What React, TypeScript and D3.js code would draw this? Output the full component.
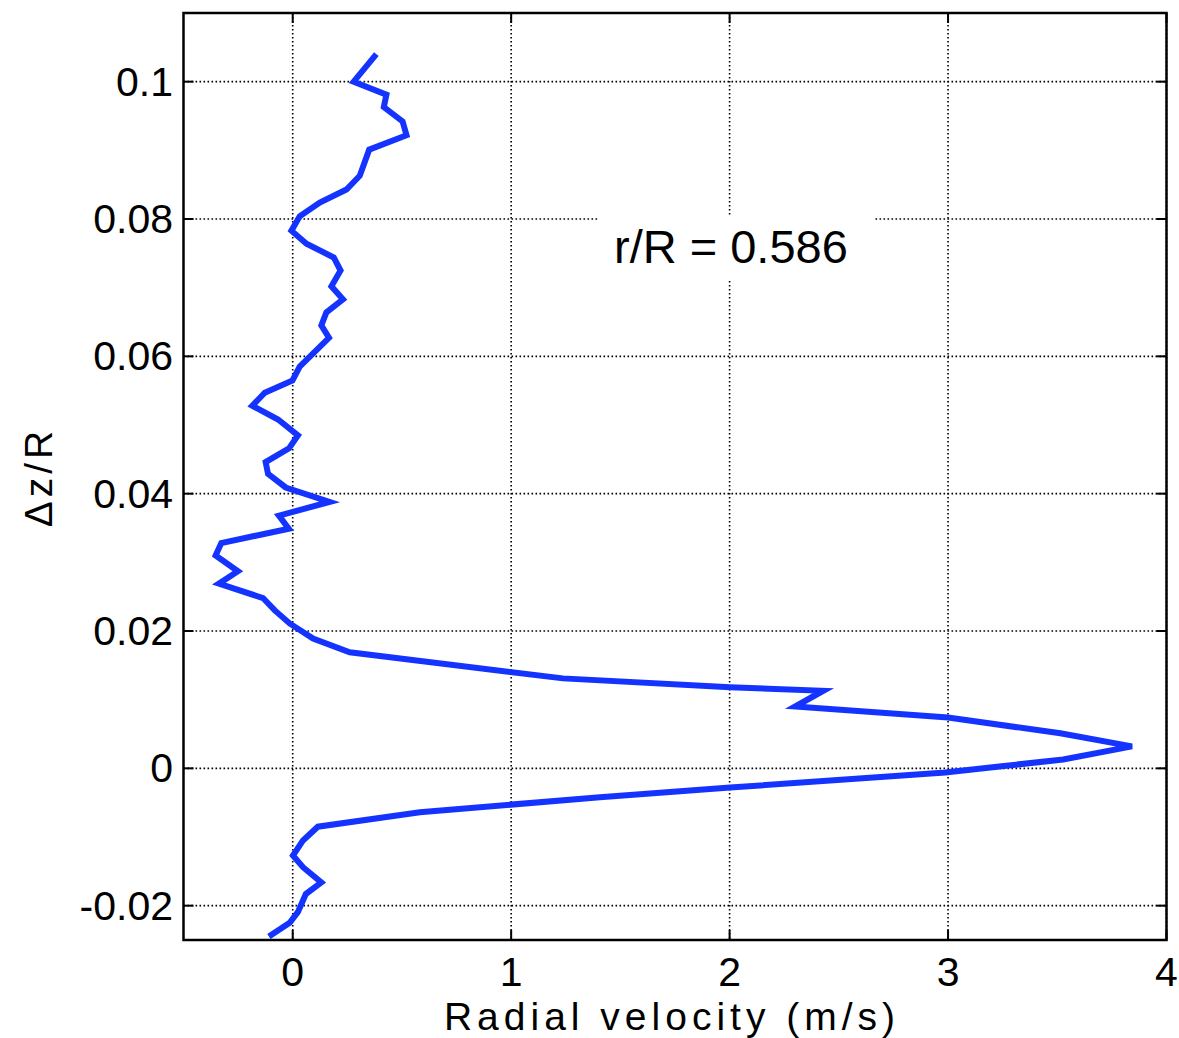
import React from "react";
import * as d3 from "d3";

// Radial velocity (m/s) and Δz/R
const velocity = [
  0.383, 0.279, 0.429, 0.417, 0.503, 0.521, 0.35, 0.307, 0.246, 0.124, 0.032,
  -0.006, 0.063, 0.188, 0.219, 0.177, 0.23, 0.154, 0.131, 0.166, 0.032, -0.001,
  -0.128, -0.185, -0.067, 0.024, -0.017, -0.124, -0.113, -0.032, 0.169, -0.063,
  -0.018, -0.327, -0.353, -0.251, -0.338, -0.136, -0.082, -0.014, 0.093, 0.261,
  1.237, 2.002, 2.429, 2.3, 3.0, 3.514, 3.842, 3.527, 2.987, 2.002, 1.406, 0.582,
  0.115, 0.047, 0.001, 0.047, 0.131, 0.06, 0.024, -0.014, -0.109,
];
const dz = [
  0.104, 0.1, 0.0981, 0.0963, 0.0942, 0.0922, 0.0901, 0.0863, 0.0843, 0.0824,
  0.0804, 0.0783, 0.0764, 0.0744, 0.0725, 0.0702, 0.0683, 0.0664, 0.0645, 0.0627,
  0.0585, 0.0565, 0.0547, 0.0528, 0.0508, 0.0485, 0.0466, 0.0446, 0.0429, 0.0409,
  0.0388, 0.0368, 0.0349, 0.0328, 0.031, 0.0287, 0.0269, 0.0248, 0.023, 0.0211,
  0.0189, 0.0169, 0.0131, 0.0118, 0.0113, 0.009, 0.0074, 0.0051, 0.0032, 0.0013,
  -0.0006, -0.0028, -0.0042, -0.0064, -0.0085, -0.0105, -0.0127, -0.0144,
  -0.0166, -0.0183, -0.0209, -0.0225, -0.0245,
];
const xTicks = [0, 1, 2, 3, 4];
const xTickLabels = ["0", "1", "2", "3", "4"];
const yTicks = [-0.02, 0, 0.02, 0.04, 0.06, 0.08, 0.1];
const yTickLabels = ["-0.02", "0", "0.02", "0.04", "0.06", "0.08", "0.1"];
const xDomain = [-0.5, 4];
const yDomain = [-0.025, 0.11];
const annotation = "r/R = 0.586";
const xTitle = "Radial velocity (m/s)";
const yTitle = "\u0394z/R";

const W = 1179;
const H = 1038;
const L = 183.5;
const R = 1166.5;
const T = 13;
const B = 940;
const FONT = "'Liberation Sans', Arial, Helvetica, sans-serif";

export default function App() {
  const x = d3.scaleLinear().domain(xDomain).range([L, R]);
  const y = d3.scaleLinear().domain(yDomain).range([B, T]);
  const pts: [number, number][] = velocity.map((v, i) => [v, dz[i]]);
  const line = d3
    .line<[number, number]>()
    .x((d) => x(d[0]))
    .y((d) => y(d[1]));
  const tickLen = 10;

  return (
    <svg
      width={W}
      height={H}
      style={{ position: "absolute", left: 0, top: 0, background: "#fff" }}
    >
      <rect x={0} y={0} width={W} height={H} fill="#fff" />
      {/* grid */}
      {xTicks.map((t) => (
        <line
          key={"gx" + t}
          x1={x(t)}
          x2={x(t)}
          y1={T}
          y2={B}
          stroke="#000"
          strokeWidth={1.6}
          strokeDasharray="1.6,2.4"
        />
      ))}
      {yTicks.map((t) => (
        <line
          key={"gy" + t}
          x1={L}
          x2={R}
          y1={y(t)}
          y2={y(t)}
          stroke="#000"
          strokeWidth={1.6}
          strokeDasharray="1.6,2.4"
        />
      ))}
      {/* annotation box */}
      <rect x={598} y={215} width={276} height={65} fill="#fff" />
      <text x={614} y={263} fontFamily={FONT} fontSize={47} fill="#000">
        {annotation}
      </text>
      {/* data line */}
      <path
        d={line(pts) || ""}
        fill="none"
        stroke="#1433ff"
        strokeWidth={6}
        strokeLinejoin="miter"
        strokeLinecap="butt"
      />
      {/* ticks */}
      {xTicks.map((t) => (
        <g key={"tx" + t}>
          <line x1={x(t)} x2={x(t)} y1={B} y2={B - tickLen} stroke="#000" strokeWidth={2} />
          <line x1={x(t)} x2={x(t)} y1={T} y2={T + tickLen} stroke="#000" strokeWidth={2} />
        </g>
      ))}
      {yTicks.map((t) => (
        <g key={"ty" + t}>
          <line x1={L} x2={L + tickLen} y1={y(t)} y2={y(t)} stroke="#000" strokeWidth={2} />
          <line x1={R} x2={R - tickLen} y1={y(t)} y2={y(t)} stroke="#000" strokeWidth={2} />
        </g>
      ))}
      {/* frame */}
      <rect x={L} y={T} width={R - L} height={B - T} fill="none" stroke="#000" strokeWidth={2.5} />
      {/* tick labels */}
      {xTicks.map((t, i) => (
        <text
          key={"lx" + t}
          x={x(t)}
          y={986}
          textAnchor="middle"
          fontFamily={FONT}
          fontSize={41}
          fill="#000"
        >
          {xTickLabels[i]}
        </text>
      ))}
      {yTicks.map((t, i) => (
        <text
          key={"ly" + t}
          x={173}
          y={y(t) + 14}
          textAnchor="end"
          fontFamily={FONT}
          fontSize={41}
          fill="#000"
        >
          {yTickLabels[i]}
        </text>
      ))}
      {/* axis titles */}
      <text
        x={(L + R) / 2 - 3}
        y={1030}
        textAnchor="middle"
        fontFamily={FONT}
        fontSize={39}
        letterSpacing={5}
        fill="#000"
      >
        {xTitle}
      </text>
      <text
        transform={`translate(52,${477}) rotate(-90)`}
        textAnchor="middle"
        fontFamily={FONT}
        fontSize={39}
        letterSpacing={4}
        fill="#000"
      >
        {yTitle}
      </text>
    </svg>
  );
}
